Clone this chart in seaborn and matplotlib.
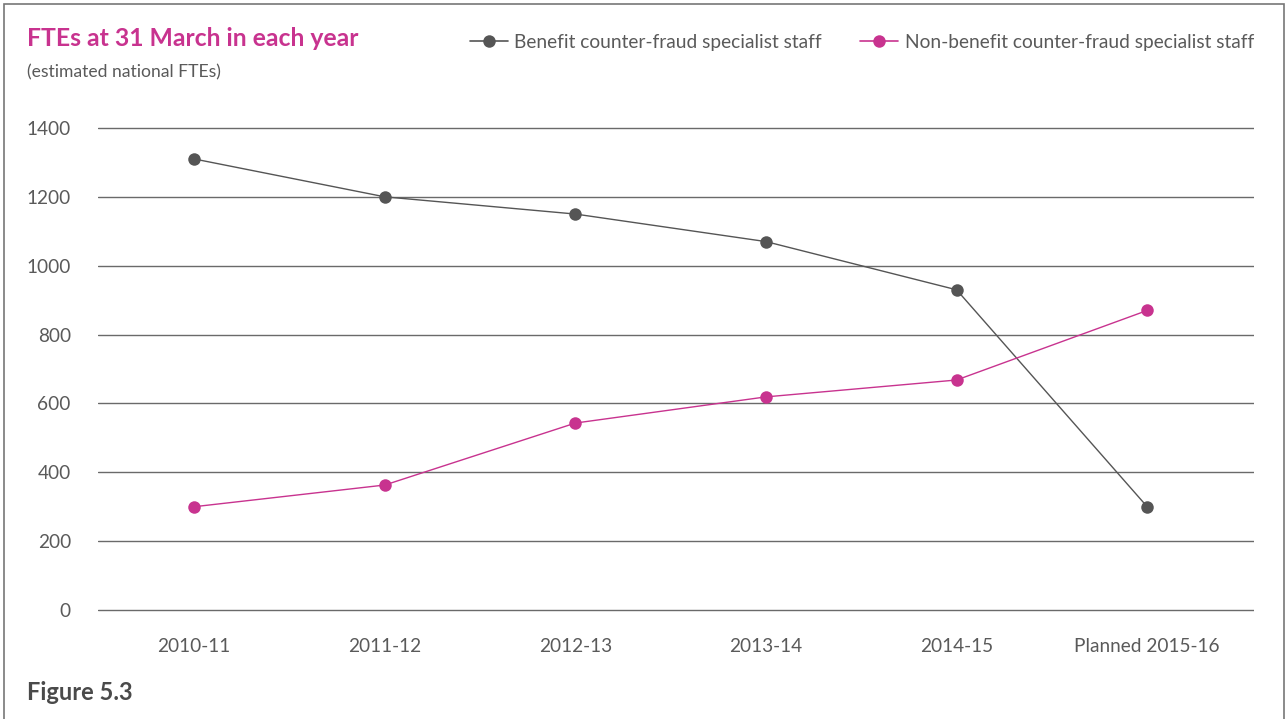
import matplotlib
matplotlib.use("Agg")
import matplotlib.pyplot as plt
import matplotlib.patches as mpatches
from matplotlib.lines import Line2D
import seaborn as sns
import pandas as pd

years = ["2010-11", "2011-12", "2012-13", "2013-14", "2014-15", "Planned 2015-16"]
benefit = [1310, 1200, 1150, 1070, 930, 300]
non_benefit = [300, 363, 543, 619, 668, 870]
series_names = ["Benefit counter-fraud specialist staff",
                "Non-benefit counter-fraud specialist staff"]
yticks = [0, 200, 400, 600, 800, 1000, 1200, 1400]

GREY = "#555555"
MAGENTA = "#c8338f"
TEXT = "#5a5a5a"

sns.set_theme(style="white")
plt.rcParams["font.family"] = ["Lato", "DejaVu Sans"]

df = pd.DataFrame({
    "year": list(range(len(years))) * 2,
    "fte": benefit + non_benefit,
    "series": [series_names[0]] * len(years) + [series_names[1]] * len(years),
})

fig = plt.figure(figsize=(12.87, 7.19), dpi=100)
ax = fig.add_axes([0.0761, 0.1468, 0.8982, 0.680])

sns.lineplot(data=df, x="year", y="fte", hue="series", style="series",
             markers={series_names[0]: "o", series_names[1]: "o"},
             dashes=False, palette=[GREY, MAGENTA], linewidth=1.0,
             markersize=9, markeredgewidth=0, ax=ax, legend=False, zorder=3)

ax.set_xlim(-0.505, 5.56)
ax.set_ylim(-10, 1410)
ax.set_yticks(yticks)
ax.set_xticks(range(len(years)))
ax.set_xticklabels(years)
ax.set_xlabel("")
ax.set_ylabel("")
for s in ax.spines.values():
    s.set_visible(False)
ax.yaxis.grid(True, color="#6a6a6a", linewidth=1.0)
ax.xaxis.grid(False)
ax.tick_params(axis="y", length=0, pad=19.5, labelsize=13.7, labelcolor=TEXT)
ax.tick_params(axis="x", length=0, pad=18, labelsize=13.7, labelcolor=TEXT)
for lbl in ax.get_yticklabels():
    lbl.set_horizontalalignment("right")

# legend along the top
handles = [Line2D([], [], color=GREY, marker="o", markersize=9, markeredgewidth=0, lw=1.2),
           Line2D([], [], color=MAGENTA, marker="o", markersize=9, markeredgewidth=0, lw=1.2)]
fig.legend(handles, series_names, loc="center right", bbox_to_anchor=(0.988, 0.941),
           ncol=2, frameon=False, fontsize=13.75, labelcolor=TEXT,
           handlelength=2.0, handletextpad=0.35, columnspacing=2.0)

fig.text(27 / 1287, 1 - 38 / 719, "FTEs at 31 March in each year", color=MAGENTA,
         fontsize=17.8, fontweight="bold", va="center", ha="left")
fig.text(27 / 1287, 1 - 72 / 719, "(estimated national FTEs)", color=TEXT,
         fontsize=12.6, va="center", ha="left")
fig.text(27 / 1287, 1 - 692 / 719, "Figure 5.3", color="#4a4a4a",
         fontsize=17, fontweight="bold", va="center", ha="left")

# outer frame
fig.patches.append(mpatches.Rectangle((4 / 1287, -0.05), 1280 / 1287, 1.05 - 3.5 / 719,
                                      transform=fig.transFigure, fill=False,
                                      edgecolor="#777777", linewidth=1.2))

fig.savefig("out.png", dpi=100)
